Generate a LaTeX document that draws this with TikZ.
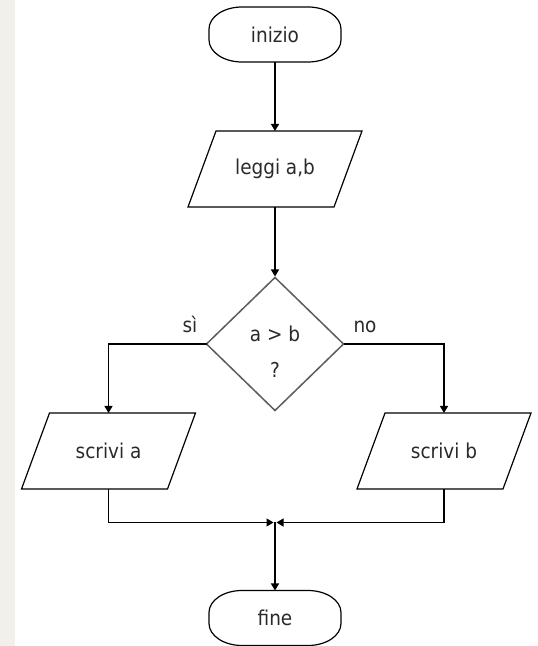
\documentclass[tikz,border=0pt]{standalone}
\usepackage{fontspec}
\setmainfont{DejaVu Sans Condensed}
\usetikzlibrary{arrows.meta,calc,shapes.geometric}
\definecolor{stripgray}{HTML}{F2F0EB}
\definecolor{decgray}{HTML}{5C5C5C}
\definecolor{txtcol}{HTML}{2A2A2A}
\tikzset{
  outl/.style={draw=black, line width=1.2pt},
  termbox/.style={draw=none, minimum width=132pt, minimum height=55pt, inner sep=0pt, outer sep=0pt, text=txtcol, font=\fontsize{20.5pt}{24pt}\selectfont},
  iobox/.style={draw=none, minimum width=174pt, minimum height=76pt, inner sep=0pt, outer sep=0pt, text=txtcol, font=\fontsize{20.5pt}{24pt}\selectfont},
  decbox/.style={shape=diamond, draw=decgray, line width=1.5pt, minimum width=137pt, minimum height=133pt, inner sep=0pt, outer sep=0pt},
  txt/.style={text=txtcol, font=\fontsize{20.5pt}{24pt}\selectfont, inner sep=0pt},
  arr/.style={draw=black, line width=1.2pt, -{Triangle[length=7pt,width=8pt]}},
}
\newcommand{\flowterm}[4]{%
  \node[termbox] (#1) at (#2,#3) {#4};
  \draw[outl] ($(#1.center)+(-33,27.5)$) -- ++(66,0)
    arc[start angle=90,end angle=0,x radius=33,y radius=22] -- ++(0,-11)
    arc[start angle=0,end angle=-90,x radius=33,y radius=22] -- ++(-66,0)
    arc[start angle=270,end angle=180,x radius=33,y radius=22] -- ++(0,11)
    arc[start angle=180,end angle=90,x radius=33,y radius=22] -- cycle;
}
\newcommand{\flowio}[4]{%
  \node[iobox] (#1) at (#2,#3) {#4};
  \draw[outl] ($(#1.center)+(-59,38)$) -- ++(146,0) -- ++(-28,-76) -- ++(-146,0) -- cycle;
}
\begin{document}
\begin{tikzpicture}[x=1pt,y=1pt]
\useasboundingbox (0,0) rectangle (538,646);
\fill[white] (0,0) rectangle (538,646);
\fill[stripgray] (0,0) rectangle (15,646);

\flowterm{inizio}{275}{611.5}{inizio}
\flowio{leggi}{275}{477}{leggi a,b}
\node[decbox] (cond) at (275,302) {};
\node[txt, anchor=base] (cmp) at (275,304) {a > b};
\node[txt, anchor=base] (qm) at (275,268) {?};
\node[txt, anchor=base] (si) at (190,313) {sì};
\node[txt, anchor=base] (no) at (365,313) {no};
\flowio{sa}{108.5}{195}{scrivi a}
\flowio{sb}{444}{195}{scrivi b}
\coordinate (m) at (275,123.5);
\flowterm{fine}{275}{28}{fine}

\draw[arr] (inizio.south) -- (leggi.north);
\draw[arr, shorten >=1pt] (leggi.south) -- (cond.north);
\draw[arr] (cond.west) -| (sa.north);
\draw[arr] (cond.east) -| (sb.north);
\draw[arr, shorten >=1.5pt] (sa.south) |- (m);
\draw[arr, shorten >=1.5pt] (sb.south) |- (m);
\draw[arr] (m) -- (fine.north);
\end{tikzpicture}
\end{document}
